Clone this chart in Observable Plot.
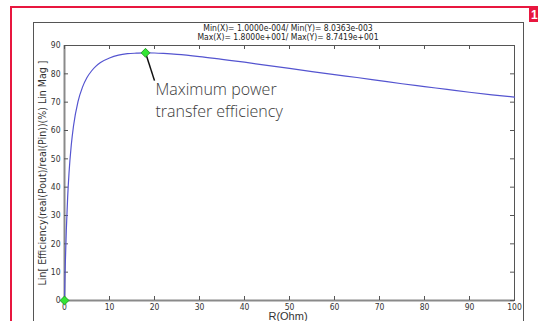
<!DOCTYPE html>
<html><head><meta charset="utf-8">
<script src="https://cdn.jsdelivr.net/npm/d3@7"></script>
<script src="https://cdn.jsdelivr.net/npm/@observablehq/plot@0.6"></script>
<style>
body{margin:0;background:#fff;}
#wrap{position:relative;width:538px;height:321px;overflow:hidden;background:#fff;}
.ov{position:absolute;}
.narrow{font-family:"Liberation Sans Narrow","DejaVu Sans Condensed","Roboto Condensed","Liberation Sans",sans-serif;font-stretch:condensed;}
#header{left:150px;width:276px;top:24px;font-size:8.5px;line-height:8.5px;color:#222;text-align:center;white-space:pre;}
#xlabel{left:238px;width:100px;top:310px;font-size:11px;color:#333;text-align:center;font-family:"Liberation Sans",Arial,sans-serif;}
</style></head><body>
<div id="wrap">
  <div id="chart" class="ov" style="left:0;top:0"></div>
  <div class="ov" style="left:33px;top:22px;width:489px;height:320px;border:1px solid #555;border-bottom:none;"></div>
  <div class="ov" style="left:11px;top:6px;width:530px;height:2px;background:#e8173f;"></div>
  <div class="ov" style="left:10px;top:6px;width:2px;height:320px;background:#e8173f;"></div>
  <div class="ov" style="left:529px;top:8px;width:12px;height:14px;background:#e8173f;color:#fff;font:bold 12px 'Liberation Sans',Arial,sans-serif;line-height:14px;padding-left:2px;">1</div>
  <div id="header" class="ov narrow"></div>
  <div id="xlabel" class="ov"></div>
</div>
<script>
// Load resistance R (Ohm) and read efficiency (%)
const resistance = [0.0001, 0.1, 0.2, 0.4, 0.7, 1, 1.5, 2, 3, 4, 5, 6, 7, 8, 10, 12, 14, 16, 18, 20, 22, 25, 30, 35, 40, 45, 50, 55, 60, 65, 70, 75, 80, 85, 90, 95, 100];
const efficiency = [0.008, 7.6, 14.1, 24.7, 36.4, 44.9, 54.8, 61.6, 70.2, 75.3, 78.7, 81.0, 82.7, 84.0, 85.6, 86.6, 87.1, 87.3, 87.42, 87.35, 87.2, 86.9, 86.1, 85.1, 84.1, 83.0, 81.9, 80.8, 79.7, 78.7, 77.6, 76.5, 75.5, 74.5, 73.5, 72.6, 71.8];
const xTicks = [0, 10, 20, 30, 40, 50, 60, 70, 80, 90, 100];
const yTicks = [0, 10, 20, 30, 40, 50, 60, 70, 80, 90];
const markerX = [0.0001, 18];
const markerY = [0.0080363, 87.419];
const calloutFrom = [18, 87.419];
const calloutTo = [20, 77.6];
const calloutText = ["Maximum power", "transfer efficiency"];
const calloutTextX = [20.2, 20.2];
const calloutTextY = [74.2, 66.4];
const headerLines = ["Min(X)= 1.0000e-004/ Min(Y)= 8.0363e-003", "Max(X)= 1.8000e+001/ Max(Y)= 8.7419e+001"];
const xLabel = "R(Ohm)";
const yLabel = "Lin[ Efficiency(real(Pout)/real(Pin))(%) Lin Mag ]";

const curve = resistance.map((r, i) => ({r, e: efficiency[i]}));
const markers = markerX.map((x, i) => ({x, y: markerY[i]}));
const callout = calloutText.map((t, i) => ({t, x: calloutTextX[i], y: calloutTextY[i]}));

document.getElementById("header").textContent = headerLines.join("\n");
document.getElementById("xlabel").textContent = xLabel;

const narrowFont = "Liberation Sans Narrow, DejaVu Sans Condensed, Liberation Sans, sans-serif";
const fw = 450, fh = 255; // frame size used for inward ticks
const chart = Plot.plot({
  width: 538, height: 321,
  marginLeft: 64, marginRight: 24, marginTop: 45, marginBottom: 21,
  style: {background: "transparent", overflow: "visible"},
  x: {domain: [0, 100]},
  y: {domain: [0, 90]},
  marks: [
    Plot.frame({stroke: "#555", strokeWidth: 1}),
    Plot.ruleX([0], {stroke: "#8a8a8a", strokeWidth: 2}),
    Plot.ruleY([0], {stroke: "#8a8a8a", strokeWidth: 2}),
    Plot.tickX(xTicks, {x: d => d, insetTop: fh - 4, stroke: "#555"}),
    Plot.tickX(xTicks, {x: d => d, insetBottom: fh - 4, stroke: "#555"}),
    Plot.tickY(yTicks, {y: d => d, insetRight: fw - 4, stroke: "#555"}),
    Plot.tickY(yTicks, {y: d => d, insetLeft: fw - 4, stroke: "#555"}),
    Plot.axisX({ticks: xTicks, tickSize: 0, tickPadding: 3, label: null, fontSize: 8.5, color: "#333", fontFamily: narrowFont}),
    Plot.axisY({ticks: yTicks, tickSize: 0, tickPadding: 4, label: null, fontSize: 8.5, color: "#333", fontFamily: narrowFont}),
    Plot.axisY({ticks: [], tickSize: 0, label: yLabel, labelAnchor: "center", labelArrow: "none",
      labelOffset: 26, fontSize: 10.5, color: "#333", fontFamily: narrowFont}),
    Plot.line(curve, {x: "r", y: "e", stroke: "#5454d0", strokeWidth: 1.2, curve: "monotone-x"}),
    Plot.link([0], {x1: () => calloutFrom[0], y1: () => calloutFrom[1], x2: () => calloutTo[0], y2: () => calloutTo[1], stroke: "#111", strokeWidth: 1.5}),
    Plot.dot(markers, {x: "x", y: "y", symbol: "diamond2", r: 4, fill: "#33e633", stroke: "#1d8a1d", strokeWidth: 0.8}),
    Plot.text(callout, {x: "x", y: "y", text: "t", textAnchor: "start", fontSize: 16, fill: "#3a3a3a",
      fontFamily: "'Open Sans', 'Noto Sans', Roboto, sans-serif", fontWeight: 300})
  ]
});
document.getElementById("chart").appendChild(chart);
</script>
</body></html>
